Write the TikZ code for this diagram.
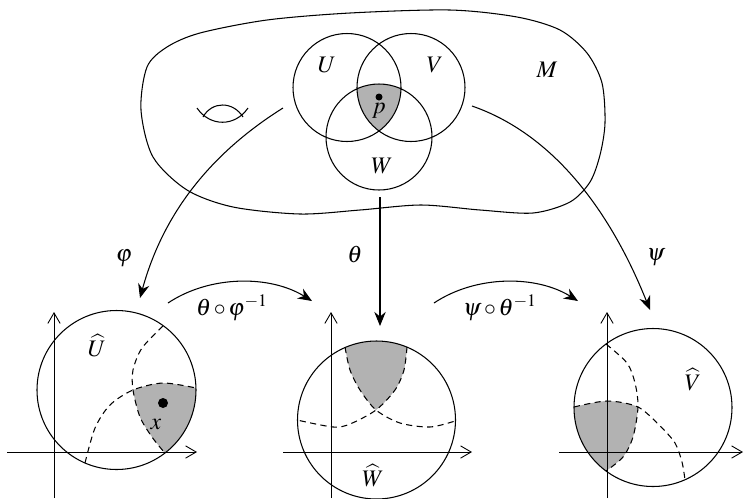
\documentclass[tikz,border=0pt]{standalone}
\usepackage{mathptmx}
\usetikzlibrary{arrows.meta}

% charts and the curves drawn in them
\def\chartUc{(116.5,390) circle (79.5)}
\def\UcurveW{plot[smooth] coordinates {(85,463) (95,428) (110,405) (133,390) (163,383) (196,388)}}
\def\UcurveV{plot[smooth] coordinates {(163,326) (142,348) (133,370) (133,390) (140,417) (152,437) (164,452)}}
\def\chartWc{(376.5,420) circle (79)}
\def\WcurveU{plot[smooth] coordinates {(345,347) (350,370) (360,390) (376,410) (400,423) (430,427) (455,421)}}
\def\WcurveV{plot[smooth] coordinates {(407,347) (404,370) (395,390) (376,410) (350,424) (333,427) (297,420)}}
\def\chartVc{(653,407.5) circle (79)}
\def\VcurveU{plot[smooth] coordinates {(606,344) (627,363) (635,383) (638,407) (633,437) (623,457) (606,471)}}
\def\VcurveW{plot[smooth] coordinates {(574,407) (607,401) (638,407) (660,426) (675,443) (682,462) (685,480)}}

\begin{document}
\begin{tikzpicture}[
    x=0.02cm, y=-0.02cm, line width=0.6pt,
    font=\fontsize{13.5}{16}\selectfont,
    map/.style={-{Stealth[length=8pt,width=6.5pt]}},
    axis/.style={-{Straight Barb[length=6pt,width=7pt]}, line width=0.5pt},
    bnd/.style={dash pattern=on 3.5pt off 2.5pt},
    region/.style={fill=black!30},
    lab/.style={inner sep=1pt},
  ]
  \useasboundingbox (0,0) rectangle (744,498);

  % the manifold
  \draw plot[smooth cycle] coordinates {(141,110) (147,67) (167,47) (200,33) (267,20) (350,13) (450,10) (517,17) (560,30) (587,53) (602,83) (605,123) (600,155) (590,182) (570,202) (533,213) (480,210) (421,205) (360,210) (300,214) (233,207) (187,190) (153,157)};
  \draw (197,108) .. controls (210,127) and (235,127) .. (248,108);
  \draw (203,117) .. controls (212,101) and (233,101) .. (243,117);

  % open sets
  \begin{scope}
    \clip (347,87.5) circle (54);
    \clip (411,87.5) circle (54);
    \fill[region] (379,137) circle (53);
  \end{scope}
  \draw (347,87.5) circle (54) (411,87.5) circle (54) (379,137) circle (53);
  \fill (379,97) circle (3.5);
  \node[lab] (lU) at (327,65) {$U$};
  \node[lab] (lV) at (435,65) {$V$};
  \node[lab] (lW) at (382,166) {$W$};
  \node[lab] (lM) at (547,70) {$M$};
  \node[lab] (lp) at (379,111) {$p$};

  % chart of U
  \begin{scope}
    \clip \chartUc;
    \clip \UcurveW -- (260,388) -- (260,520) -- (85,520) -- cycle;
    \fill[region] \UcurveV -- (164,520) -- (260,520) -- (260,326) -- cycle;
  \end{scope}
  \draw \chartUc;
  \draw[bnd] \UcurveW;
  \draw[bnd] \UcurveV;
  \draw[axis] (54,498) -- (54,312);
  \draw[axis] (7,452) -- (197,452);
  \fill (163,403) circle (5);
  \node[lab] (lx) at (156,424) {$x$};
  \node[lab] (lUh) at (97,346) {$\widehat{U}$};

  % chart of W
  \begin{scope}
    \clip \chartWc;
    \clip \WcurveU -- (470,421) -- (470,330) -- (345,330) -- cycle;
    \fill[region] \WcurveV -- (285,420) -- (285,330) -- (407,330) -- cycle;
  \end{scope}
  \draw \chartWc;
  \draw[bnd] \WcurveU;
  \draw[bnd] \WcurveV;
  \draw[axis] (331,498) -- (331,312);
  \draw[axis] (283,452) -- (472,452);
  \node[lab] (lWh) at (373,476) {$\widehat{W}$};

  % chart of V
  \begin{scope}
    \clip \chartVc;
    \clip \VcurveU -- (560,471) -- (560,344) -- cycle;
    \fill[region] \VcurveW -- (690,480) -- (690,500) -- (560,500) -- (560,407) -- cycle;
  \end{scope}
  \draw \chartVc;
  \draw[bnd] \VcurveU;
  \draw[bnd] \VcurveW;
  \draw[axis] (607,498) -- (607,312);
  \draw[axis] (559,452) -- (743,452);
  \node[lab] (lVh) at (693,380) {$\widehat{V}$};

  % maps
  \coordinate (phiS) at (283,108);
  \coordinate (phiE) at (140,298);
  \coordinate (thS) at (380,197);
  \coordinate (thE) at (380,326);
  \coordinate (psiS) at (472,106);
  \coordinate (psiE) at (650,310);
  \coordinate (tpS) at (168,303);
  \coordinate (tpE) at (312,301);
  \coordinate (ptS) at (434,303);
  \coordinate (ptE) at (578,301);
  \draw[map] (phiS) .. controls (200,160) and (160,225) .. (phiE);
  \draw[map] (thS) -- (thE);
  \draw[map] (psiS) .. controls (570,140) and (622,240) .. (psiE);
  \draw[map] (tpS) .. controls (210,275) and (270,275) .. (tpE);
  \draw[map] (ptS) .. controls (476,275) and (536,275) .. (ptE);
  \node[lab] (lphi) at (124,258) {$\varphi$};
  \node[lab] (lth) at (355,255) {$\theta$};
  \node[lab] (lpsi) at (656,257) {$\psi$};
  \node[lab] (ltp) at (232,308) {$\theta\,{\circ}\,\varphi^{-1}$};
  \node[lab] (lpt) at (500,308) {$\psi\,{\circ}\,\theta^{-1}$};
\end{tikzpicture}
\end{document}
